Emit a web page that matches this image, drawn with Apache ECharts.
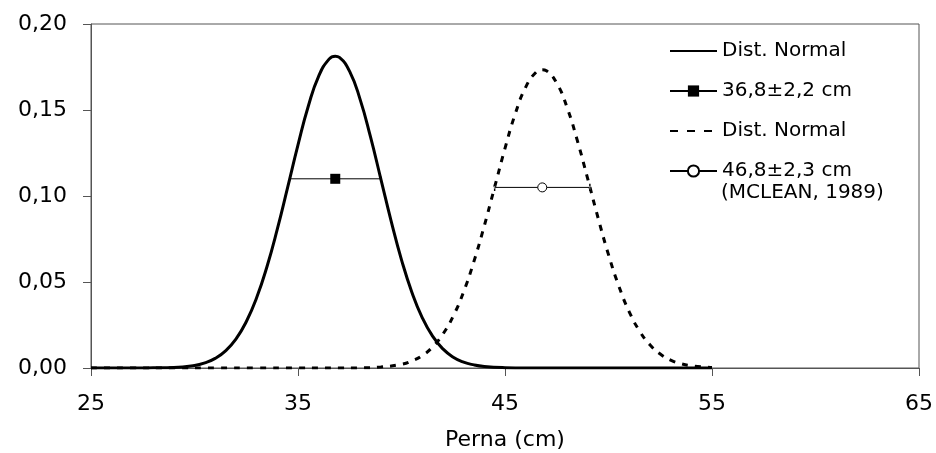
<!DOCTYPE html>
<html>
<head>
<meta charset="utf-8">
<script src="https://cdn.jsdelivr.net/npm/echarts@6/dist/echarts.min.js"></script>
<style>
  html, body { margin: 0; padding: 0; background: #fff; }
  #chart { width: 936px; height: 453px; }
</style>
</head>
<body>
<div id="chart"></div>
<script>
// curva normal 1 (36,8 +- 2,2 cm)
const xNormal1 = [25, 26, 27, 28, 29, 30, 30.5, 31, 31.5, 32, 32.5, 33, 33.5, 34, 34.5, 35, 35.5, 36, 36.5, 36.8,
  37, 37.5, 38, 38.5, 39, 39.5, 40, 40.5, 41, 41.5, 42, 42.5, 43, 43.5, 44, 45, 46, 47, 48, 49, 50, 51, 52, 53, 54, 55]
const yNormal1 = [0, 0, 0, 0.0001, 0.0003, 0.0015, 0.0030, 0.0056, 0.0100, 0.0168, 0.0269, 0.0408, 0.0589, 0.0807, 0.1050, 0.1297, 0.1523, 0.1697, 0.1796, 0.1813,
  0.1806, 0.1723, 0.1562, 0.1345, 0.1100, 0.0854, 0.0629, 0.0441, 0.0293, 0.0185, 0.0111, 0.0063, 0.0034, 0.0018, 0.0009, 0.0002, 0, 0, 0, 0, 0, 0, 0, 0, 0, 0]

// curva normal 2 (46,8 +- 2,3 cm, MCLEAN 1989)
const xNormal2 = [25, 27, 29, 31, 33, 35, 36, 37, 38, 39, 40, 40.5, 41, 41.5, 42, 42.5, 43, 43.5, 44, 44.5, 45, 45.5, 46, 46.5, 46.8,
  47, 47.5, 48, 48.5, 49, 49.5, 50, 50.5, 51, 51.5, 52, 52.5, 53, 53.5, 54, 55]
const yNormal2 = [0, 0, 0, 0, 0, 0, 0, 0, 0.0001, 0.0006, 0.0022, 0.0041, 0.0072, 0.0122, 0.0197, 0.0302, 0.0443, 0.0620, 0.0827, 0.1052, 0.1277, 0.1479, 0.1633, 0.1720, 0.1734,
  0.1728, 0.1656, 0.1514, 0.1320, 0.1098, 0.0871, 0.0659, 0.0476, 0.0327, 0.0215, 0.0135, 0.0081, 0.0046, 0.0025, 0.0013, 0.0003]

// media +- desvio
const markerX = [36.8, 46.8]
const markerY = [0.110, 0.105]
const markerErr = [2.2, 2.3]

const seriesNames = ['Dist. Normal', '36,8±2,2 cm', 'Dist. Normal ', '46,8±2,3 cm']
const xTicks = [25, 35, 45, 55, 65]

const zip = (xs, ys) => xs.map((x, i) => [x, ys[i]])
const errData = (i) => [
  { value: [markerX[i] - markerErr[i], markerY[i]], symbol: 'rect', symbolSize: [1, 5] },
  [markerX[i], markerY[i]],
  { value: [markerX[i] + markerErr[i], markerY[i]], symbol: 'rect', symbolSize: [1, 5] }
]

const axisColor = '#555'
const font = 'DejaVu Sans'

const chart = echarts.init(document.getElementById('chart'))
chart.setOption({
  animation: false,
  grid: {
    left: 91,
    right: 17,
    top: 24,
    bottom: 85,
    outerBoundsMode: 'none',
    show: true,
    borderColor: axisColor,
    borderWidth: 1
  },
  legend: {
    orient: 'vertical',
    left: 669,
    top: 41,
    padding: 0,
    itemWidth: 47,
    itemHeight: 14,
    itemGap: 20,
    data: [
      // as curvas nao tem simbolo na legenda
      { name: seriesNames[0], itemStyle: { opacity: 0 } },
      seriesNames[1],
      { name: seriesNames[2], itemStyle: { opacity: 0 }, lineStyle: { type: [8, 9] } },
      seriesNames[3]
    ],
    textStyle: { fontFamily: font, fontSize: 20, color: '#000' }
  },
  graphic: [
    {
      type: 'text',
      left: 721,
      top: 183,
      style: { text: '(MCLEAN, 1989)', font: '20px "DejaVu Sans"', fill: '#000' }
    }
  ],
  xAxis: {
    type: 'value',
    min: 25,
    max: 65,
    interval: 10,
    name: 'Perna (cm)',
    nameLocation: 'middle',
    nameGap: 61,
    nameTextStyle: { fontFamily: font, fontSize: 22, color: '#000' },
    axisLine: { lineStyle: { color: axisColor } },
    axisTick: { length: 8, lineStyle: { color: axisColor } },
    axisLabel: {
      margin: 25,
      fontFamily: font,
      fontSize: 22,
      color: '#000',
      formatter: (v) => xTicks.includes(v) ? String(v) : ''
    },
    splitLine: { show: false }
  },
  yAxis: {
    type: 'value',
    min: 0,
    max: 0.2,
    interval: 0.05,
    axisLine: { show: true, lineStyle: { color: axisColor } },
    axisTick: { show: true, length: 8, lineStyle: { color: axisColor } },
    axisLabel: {
      margin: 24,
      fontFamily: font,
      fontSize: 22,
      color: '#000',
      formatter: (v) => v.toFixed(2).replace('.', ',')
    },
    splitLine: { show: false }
  },
  series: [
    {
      name: seriesNames[2],
      type: 'line',
      smooth: true,
      symbol: 'none',
      z: 2,
      lineStyle: { color: '#000', width: 3, type: [6, 7] },
      itemStyle: { color: '#000' },
      data: zip(xNormal2, yNormal2)
    },
    {
      name: seriesNames[0],
      type: 'line',
      smooth: true,
      symbol: 'none',
      z: 3,
      lineStyle: { color: '#000', width: 3 },
      itemStyle: { color: '#000' },
      data: zip(xNormal1, yNormal1)
    },
    {
      name: seriesNames[1],
      type: 'line',
      symbol: 'rect',
      symbolSize: 10,
      showAllSymbol: true,
      z: 4,
      lineStyle: { color: '#000', width: 1 },
      itemStyle: { color: '#000' },
      data: errData(0)
    },
    {
      name: seriesNames[3],
      type: 'line',
      symbol: 'circle',
      symbolSize: 9,
      showAllSymbol: true,
      z: 4,
      lineStyle: { color: '#000', width: 1 },
      itemStyle: { color: '#fff', borderColor: '#000', borderWidth: 1 },
      data: errData(1)
    }
  ]
})
</script>
</body>
</html>
